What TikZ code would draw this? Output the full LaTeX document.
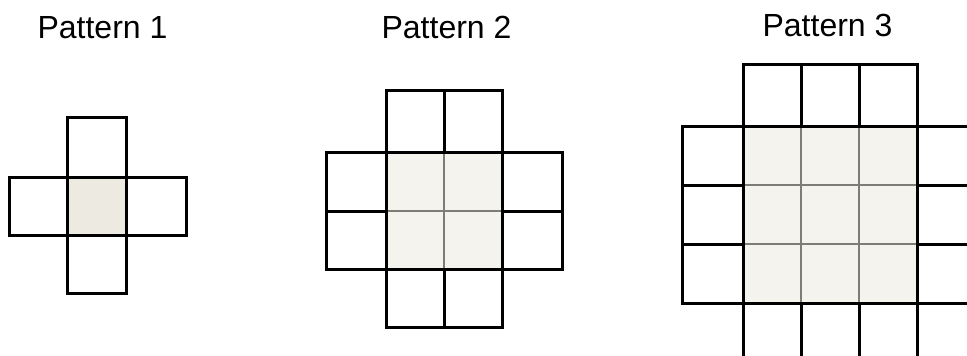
\documentclass[tikz,border=0pt]{standalone}
\usepackage{fontspec}
\setmainfont{Liberation Sans}
\definecolor{shadeA}{HTML}{ECEAE1}
\definecolor{shadeB}{HTML}{F4F3EE}
\definecolor{innergray}{HTML}{7D7D78}
\begin{document}
\begin{tikzpicture}[x=1pt,y=-1pt,
  cell/.style={draw=black,line width=3pt},
  inner/.style={draw=innergray,line width=2.6pt},
  title/.style={anchor=base,inner sep=0pt,font=\fontsize{32}{38}\selectfont}]
\useasboundingbox (0,0) rectangle (967,356);
\clip (0,0) rectangle (967,356);
% titles
\node[title] (t1) at (102.5,38) {Pattern 1};
\node[title] (t2) at (446.5,38) {Pattern 2};
\node[title] (t3) at (827.5,36) {Pattern 3};
% Pattern 1
\fill[shadeA] (67,177) rectangle (126,235);
\draw[cell] (67,117) rectangle (126,177);
\draw[cell] (9,177) rectangle (67,235);
\draw[cell] (126,177) rectangle (186,235);
\draw[cell] (67,235) rectangle (126,293);
% Pattern 2
\fill[shadeB] (386,152) rectangle (502,269);
\draw[inner] (444,152) -- (444,269);
\draw[inner] (386,211) -- (502,211);
\draw[cell] (386,90) rectangle (444,152);
\draw[cell] (444,90) rectangle (502,152);
\draw[cell] (326,152) rectangle (386,211);
\draw[cell] (326,211) rectangle (386,269);
\draw[cell] (502,152) rectangle (562,211);
\draw[cell] (502,211) rectangle (562,269);
\draw[cell] (386,269) rectangle (444,327);
\draw[cell] (444,269) rectangle (502,327);
% Pattern 3
\fill[shadeB] (743,126) rectangle (917,303);
\draw[inner] (801,126) -- (801,303);
\draw[inner] (859,126) -- (859,303);
\draw[inner] (743,185) -- (917,185);
\draw[inner] (743,244) -- (917,244);
\foreach \a/\b in {743/801,801/859,859/917}{
  \draw[cell] (\a,64) rectangle (\b,126);
  \draw[cell] (\a,303) rectangle (\b,362);
}
\foreach \a/\b in {126/185,185/244,244/303}{
  \draw[cell] (682,\a) rectangle (743,\b);
  \draw[cell] (917,\a) rectangle (976,\b);
}
\end{tikzpicture}
\end{document}
